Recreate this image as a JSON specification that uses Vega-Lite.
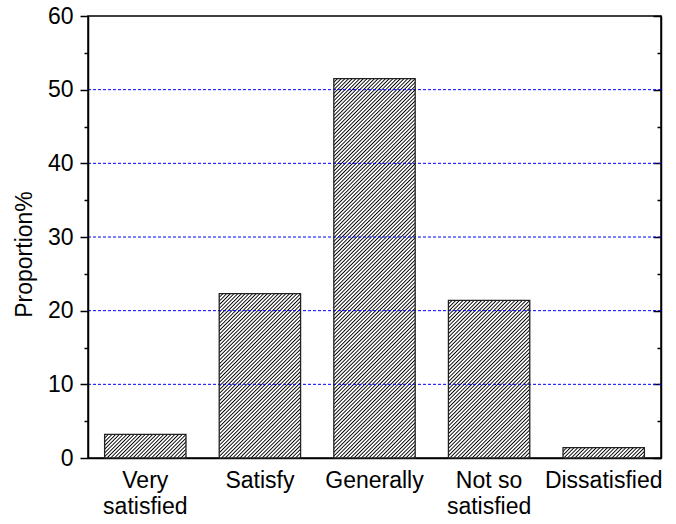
{
  "$schema": "https://vega.github.io/schema/vega-lite/v6.json",
  "width": 573,
  "height": 442,
  "autosize": "none",
  "padding": {"left": 88, "top": 16, "right": 15, "bottom": 66},
  "background": "white",
  "config": {
    "view": {"stroke": "black", "strokeWidth": 1.5},
    "font": "Liberation Sans"
  },
  "params": [
    {"name": "hatch", "value": [
{"offset":0,"color":"#000"},{"offset":0.0028,"color":"#fff"},{"offset":0.0052,"color":"#fff"},
{"offset":0.008,"color":"#000"},{"offset":0.0108,"color":"#fff"},{"offset":0.0132,"color":"#fff"},
{"offset":0.016,"color":"#000"},{"offset":0.0188,"color":"#fff"},{"offset":0.0212,"color":"#fff"},
{"offset":0.024,"color":"#000"},{"offset":0.0268,"color":"#fff"},{"offset":0.0292,"color":"#fff"},
{"offset":0.032,"color":"#000"},{"offset":0.0348,"color":"#fff"},{"offset":0.0372,"color":"#fff"},
{"offset":0.04,"color":"#000"},{"offset":0.0428,"color":"#fff"},{"offset":0.0452,"color":"#fff"},
{"offset":0.048,"color":"#000"},{"offset":0.0508,"color":"#fff"},{"offset":0.0532,"color":"#fff"},
{"offset":0.056,"color":"#000"},{"offset":0.0588,"color":"#fff"},{"offset":0.0612,"color":"#fff"},
{"offset":0.064,"color":"#000"},{"offset":0.0668,"color":"#fff"},{"offset":0.0692,"color":"#fff"},
{"offset":0.072,"color":"#000"},{"offset":0.0748,"color":"#fff"},{"offset":0.0772,"color":"#fff"},
{"offset":0.08,"color":"#000"},{"offset":0.0828,"color":"#fff"},{"offset":0.0852,"color":"#fff"},
{"offset":0.088,"color":"#000"},{"offset":0.0908,"color":"#fff"},{"offset":0.0932,"color":"#fff"},
{"offset":0.096,"color":"#000"},{"offset":0.0988,"color":"#fff"},{"offset":0.1012,"color":"#fff"},
{"offset":0.104,"color":"#000"},{"offset":0.1068,"color":"#fff"},{"offset":0.1092,"color":"#fff"},
{"offset":0.112,"color":"#000"},{"offset":0.1148,"color":"#fff"},{"offset":0.1172,"color":"#fff"},
{"offset":0.12,"color":"#000"},{"offset":0.1228,"color":"#fff"},{"offset":0.1252,"color":"#fff"},
{"offset":0.128,"color":"#000"},{"offset":0.1308,"color":"#fff"},{"offset":0.1332,"color":"#fff"},
{"offset":0.136,"color":"#000"},{"offset":0.1388,"color":"#fff"},{"offset":0.1412,"color":"#fff"},
{"offset":0.144,"color":"#000"},{"offset":0.1468,"color":"#fff"},{"offset":0.1492,"color":"#fff"},
{"offset":0.152,"color":"#000"},{"offset":0.1548,"color":"#fff"},{"offset":0.1572,"color":"#fff"},
{"offset":0.16,"color":"#000"},{"offset":0.1628,"color":"#fff"},{"offset":0.1652,"color":"#fff"},
{"offset":0.168,"color":"#000"},{"offset":0.1708,"color":"#fff"},{"offset":0.1732,"color":"#fff"},
{"offset":0.176,"color":"#000"},{"offset":0.1788,"color":"#fff"},{"offset":0.1812,"color":"#fff"},
{"offset":0.184,"color":"#000"},{"offset":0.1868,"color":"#fff"},{"offset":0.1892,"color":"#fff"},
{"offset":0.192,"color":"#000"},{"offset":0.1948,"color":"#fff"},{"offset":0.1972,"color":"#fff"},
{"offset":0.2,"color":"#000"},{"offset":0.2028,"color":"#fff"},{"offset":0.2052,"color":"#fff"},
{"offset":0.208,"color":"#000"},{"offset":0.2108,"color":"#fff"},{"offset":0.2132,"color":"#fff"},
{"offset":0.216,"color":"#000"},{"offset":0.2188,"color":"#fff"},{"offset":0.2212,"color":"#fff"},
{"offset":0.224,"color":"#000"},{"offset":0.2268,"color":"#fff"},{"offset":0.2292,"color":"#fff"},
{"offset":0.232,"color":"#000"},{"offset":0.2348,"color":"#fff"},{"offset":0.2372,"color":"#fff"},
{"offset":0.24,"color":"#000"},{"offset":0.2428,"color":"#fff"},{"offset":0.2452,"color":"#fff"},
{"offset":0.248,"color":"#000"},{"offset":0.2508,"color":"#fff"},{"offset":0.2532,"color":"#fff"},
{"offset":0.256,"color":"#000"},{"offset":0.2588,"color":"#fff"},{"offset":0.2612,"color":"#fff"},
{"offset":0.264,"color":"#000"},{"offset":0.2668,"color":"#fff"},{"offset":0.2692,"color":"#fff"},
{"offset":0.272,"color":"#000"},{"offset":0.2748,"color":"#fff"},{"offset":0.2772,"color":"#fff"},
{"offset":0.28,"color":"#000"},{"offset":0.2828,"color":"#fff"},{"offset":0.2852,"color":"#fff"},
{"offset":0.288,"color":"#000"},{"offset":0.2908,"color":"#fff"},{"offset":0.2932,"color":"#fff"},
{"offset":0.296,"color":"#000"},{"offset":0.2988,"color":"#fff"},{"offset":0.3012,"color":"#fff"},
{"offset":0.304,"color":"#000"},{"offset":0.3068,"color":"#fff"},{"offset":0.3092,"color":"#fff"},
{"offset":0.312,"color":"#000"},{"offset":0.3148,"color":"#fff"},{"offset":0.3172,"color":"#fff"},
{"offset":0.32,"color":"#000"},{"offset":0.3228,"color":"#fff"},{"offset":0.3252,"color":"#fff"},
{"offset":0.328,"color":"#000"},{"offset":0.3308,"color":"#fff"},{"offset":0.3332,"color":"#fff"},
{"offset":0.336,"color":"#000"},{"offset":0.3388,"color":"#fff"},{"offset":0.3412,"color":"#fff"},
{"offset":0.344,"color":"#000"},{"offset":0.3468,"color":"#fff"},{"offset":0.3492,"color":"#fff"},
{"offset":0.352,"color":"#000"},{"offset":0.3548,"color":"#fff"},{"offset":0.3572,"color":"#fff"},
{"offset":0.36,"color":"#000"},{"offset":0.3628,"color":"#fff"},{"offset":0.3652,"color":"#fff"},
{"offset":0.368,"color":"#000"},{"offset":0.3708,"color":"#fff"},{"offset":0.3732,"color":"#fff"},
{"offset":0.376,"color":"#000"},{"offset":0.3788,"color":"#fff"},{"offset":0.3812,"color":"#fff"},
{"offset":0.384,"color":"#000"},{"offset":0.3868,"color":"#fff"},{"offset":0.3892,"color":"#fff"},
{"offset":0.392,"color":"#000"},{"offset":0.3948,"color":"#fff"},{"offset":0.3972,"color":"#fff"},
{"offset":0.4,"color":"#000"},{"offset":0.4028,"color":"#fff"},{"offset":0.4052,"color":"#fff"},
{"offset":0.408,"color":"#000"},{"offset":0.4108,"color":"#fff"},{"offset":0.4132,"color":"#fff"},
{"offset":0.416,"color":"#000"},{"offset":0.4188,"color":"#fff"},{"offset":0.4212,"color":"#fff"},
{"offset":0.424,"color":"#000"},{"offset":0.4268,"color":"#fff"},{"offset":0.4292,"color":"#fff"},
{"offset":0.432,"color":"#000"},{"offset":0.4348,"color":"#fff"},{"offset":0.4372,"color":"#fff"},
{"offset":0.44,"color":"#000"},{"offset":0.4428,"color":"#fff"},{"offset":0.4452,"color":"#fff"},
{"offset":0.448,"color":"#000"},{"offset":0.4508,"color":"#fff"},{"offset":0.4532,"color":"#fff"},
{"offset":0.456,"color":"#000"},{"offset":0.4588,"color":"#fff"},{"offset":0.4612,"color":"#fff"},
{"offset":0.464,"color":"#000"},{"offset":0.4668,"color":"#fff"},{"offset":0.4692,"color":"#fff"},
{"offset":0.472,"color":"#000"},{"offset":0.4748,"color":"#fff"},{"offset":0.4772,"color":"#fff"},
{"offset":0.48,"color":"#000"},{"offset":0.4828,"color":"#fff"},{"offset":0.4852,"color":"#fff"},
{"offset":0.488,"color":"#000"},{"offset":0.4908,"color":"#fff"},{"offset":0.4932,"color":"#fff"},
{"offset":0.496,"color":"#000"},{"offset":0.4988,"color":"#fff"},{"offset":0.5012,"color":"#fff"},
{"offset":0.504,"color":"#000"},{"offset":0.5068,"color":"#fff"},{"offset":0.5092,"color":"#fff"},
{"offset":0.512,"color":"#000"},{"offset":0.5148,"color":"#fff"},{"offset":0.5172,"color":"#fff"},
{"offset":0.52,"color":"#000"},{"offset":0.5228,"color":"#fff"},{"offset":0.5252,"color":"#fff"},
{"offset":0.528,"color":"#000"},{"offset":0.5308,"color":"#fff"},{"offset":0.5332,"color":"#fff"},
{"offset":0.536,"color":"#000"},{"offset":0.5388,"color":"#fff"},{"offset":0.5412,"color":"#fff"},
{"offset":0.544,"color":"#000"},{"offset":0.5468,"color":"#fff"},{"offset":0.5492,"color":"#fff"},
{"offset":0.552,"color":"#000"},{"offset":0.5548,"color":"#fff"},{"offset":0.5572,"color":"#fff"},
{"offset":0.56,"color":"#000"},{"offset":0.5628,"color":"#fff"},{"offset":0.5652,"color":"#fff"},
{"offset":0.568,"color":"#000"},{"offset":0.5708,"color":"#fff"},{"offset":0.5732,"color":"#fff"},
{"offset":0.576,"color":"#000"},{"offset":0.5788,"color":"#fff"},{"offset":0.5812,"color":"#fff"},
{"offset":0.584,"color":"#000"},{"offset":0.5868,"color":"#fff"},{"offset":0.5892,"color":"#fff"},
{"offset":0.592,"color":"#000"},{"offset":0.5948,"color":"#fff"},{"offset":0.5972,"color":"#fff"},
{"offset":0.6,"color":"#000"},{"offset":0.6028,"color":"#fff"},{"offset":0.6052,"color":"#fff"},
{"offset":0.608,"color":"#000"},{"offset":0.6108,"color":"#fff"},{"offset":0.6132,"color":"#fff"},
{"offset":0.616,"color":"#000"},{"offset":0.6188,"color":"#fff"},{"offset":0.6212,"color":"#fff"},
{"offset":0.624,"color":"#000"},{"offset":0.6268,"color":"#fff"},{"offset":0.6292,"color":"#fff"},
{"offset":0.632,"color":"#000"},{"offset":0.6348,"color":"#fff"},{"offset":0.6372,"color":"#fff"},
{"offset":0.64,"color":"#000"},{"offset":0.6428,"color":"#fff"},{"offset":0.6452,"color":"#fff"},
{"offset":0.648,"color":"#000"},{"offset":0.6508,"color":"#fff"},{"offset":0.6532,"color":"#fff"},
{"offset":0.656,"color":"#000"},{"offset":0.6588,"color":"#fff"},{"offset":0.6612,"color":"#fff"},
{"offset":0.664,"color":"#000"},{"offset":0.6668,"color":"#fff"},{"offset":0.6692,"color":"#fff"},
{"offset":0.672,"color":"#000"},{"offset":0.6748,"color":"#fff"},{"offset":0.6772,"color":"#fff"},
{"offset":0.68,"color":"#000"},{"offset":0.6828,"color":"#fff"},{"offset":0.6852,"color":"#fff"},
{"offset":0.688,"color":"#000"},{"offset":0.6908,"color":"#fff"},{"offset":0.6932,"color":"#fff"},
{"offset":0.696,"color":"#000"},{"offset":0.6988,"color":"#fff"},{"offset":0.7012,"color":"#fff"},
{"offset":0.704,"color":"#000"},{"offset":0.7068,"color":"#fff"},{"offset":0.7092,"color":"#fff"},
{"offset":0.712,"color":"#000"},{"offset":0.7148,"color":"#fff"},{"offset":0.7172,"color":"#fff"},
{"offset":0.72,"color":"#000"},{"offset":0.7228,"color":"#fff"},{"offset":0.7252,"color":"#fff"},
{"offset":0.728,"color":"#000"},{"offset":0.7308,"color":"#fff"},{"offset":0.7332,"color":"#fff"},
{"offset":0.736,"color":"#000"},{"offset":0.7388,"color":"#fff"},{"offset":0.7412,"color":"#fff"},
{"offset":0.744,"color":"#000"},{"offset":0.7468,"color":"#fff"},{"offset":0.7492,"color":"#fff"},
{"offset":0.752,"color":"#000"},{"offset":0.7548,"color":"#fff"},{"offset":0.7572,"color":"#fff"},
{"offset":0.76,"color":"#000"},{"offset":0.7628,"color":"#fff"},{"offset":0.7652,"color":"#fff"},
{"offset":0.768,"color":"#000"},{"offset":0.7708,"color":"#fff"},{"offset":0.7732,"color":"#fff"},
{"offset":0.776,"color":"#000"},{"offset":0.7788,"color":"#fff"},{"offset":0.7812,"color":"#fff"},
{"offset":0.784,"color":"#000"},{"offset":0.7868,"color":"#fff"},{"offset":0.7892,"color":"#fff"},
{"offset":0.792,"color":"#000"},{"offset":0.7948,"color":"#fff"},{"offset":0.7972,"color":"#fff"},
{"offset":0.8,"color":"#000"},{"offset":0.8028,"color":"#fff"},{"offset":0.8052,"color":"#fff"},
{"offset":0.808,"color":"#000"},{"offset":0.8108,"color":"#fff"},{"offset":0.8132,"color":"#fff"},
{"offset":0.816,"color":"#000"},{"offset":0.8188,"color":"#fff"},{"offset":0.8212,"color":"#fff"},
{"offset":0.824,"color":"#000"},{"offset":0.8268,"color":"#fff"},{"offset":0.8292,"color":"#fff"},
{"offset":0.832,"color":"#000"},{"offset":0.8348,"color":"#fff"},{"offset":0.8372,"color":"#fff"},
{"offset":0.84,"color":"#000"},{"offset":0.8428,"color":"#fff"},{"offset":0.8452,"color":"#fff"},
{"offset":0.848,"color":"#000"},{"offset":0.8508,"color":"#fff"},{"offset":0.8532,"color":"#fff"},
{"offset":0.856,"color":"#000"},{"offset":0.8588,"color":"#fff"},{"offset":0.8612,"color":"#fff"},
{"offset":0.864,"color":"#000"},{"offset":0.8668,"color":"#fff"},{"offset":0.8692,"color":"#fff"},
{"offset":0.872,"color":"#000"},{"offset":0.8748,"color":"#fff"},{"offset":0.8772,"color":"#fff"},
{"offset":0.88,"color":"#000"},{"offset":0.8828,"color":"#fff"},{"offset":0.8852,"color":"#fff"},
{"offset":0.888,"color":"#000"},{"offset":0.8908,"color":"#fff"},{"offset":0.8932,"color":"#fff"},
{"offset":0.896,"color":"#000"},{"offset":0.8988,"color":"#fff"},{"offset":0.9012,"color":"#fff"},
{"offset":0.904,"color":"#000"},{"offset":0.9068,"color":"#fff"},{"offset":0.9092,"color":"#fff"},
{"offset":0.912,"color":"#000"},{"offset":0.9148,"color":"#fff"},{"offset":0.9172,"color":"#fff"},
{"offset":0.92,"color":"#000"},{"offset":0.9228,"color":"#fff"},{"offset":0.9252,"color":"#fff"},
{"offset":0.928,"color":"#000"},{"offset":0.9308,"color":"#fff"},{"offset":0.9332,"color":"#fff"},
{"offset":0.936,"color":"#000"},{"offset":0.9388,"color":"#fff"},{"offset":0.9412,"color":"#fff"},
{"offset":0.944,"color":"#000"},{"offset":0.9468,"color":"#fff"},{"offset":0.9492,"color":"#fff"},
{"offset":0.952,"color":"#000"},{"offset":0.9548,"color":"#fff"},{"offset":0.9572,"color":"#fff"},
{"offset":0.96,"color":"#000"},{"offset":0.9628,"color":"#fff"},{"offset":0.9652,"color":"#fff"},
{"offset":0.968,"color":"#000"},{"offset":0.9708,"color":"#fff"},{"offset":0.9732,"color":"#fff"},
{"offset":0.976,"color":"#000"},{"offset":0.9788,"color":"#fff"},{"offset":0.9812,"color":"#fff"},
{"offset":0.984,"color":"#000"},{"offset":0.9868,"color":"#fff"},{"offset":0.9892,"color":"#fff"},
{"offset":0.992,"color":"#000"},{"offset":0.9948,"color":"#fff"},{"offset":0.9972,"color":"#fff"},
{"offset":1,"color":"#000"}
    ]}
  ],
  "data": {
    "values": [
      {"category": "Very satisfied", "proportion": 3.2},
      {"category": "Satisfy", "proportion": 22.3},
      {"category": "Generally", "proportion": 51.5},
      {"category": "Not so satisfied", "proportion": 21.4},
      {"category": "Dissatisfied", "proportion": 1.4}
    ]
  },
  "layer": [
    {
      "mark": {"type": "bar", "strokeWidth": 0},
      "encoding": {
        "x": {
          "field": "category",
          "type": "nominal",
          "sort": null,
          "scale": {"paddingInner": 0.29, "paddingOuter": 0.145},
          "axis": {
            "title": null,
            "labelAngle": 0,
            "ticks": false,
            "tickSize": 0,
            "domainColor": "black",
            "domainWidth": 1.5,
            "labelFontSize": 23,
            "labelColor": "black",
            "labelPadding": 11,
            "labelLineHeight": 26,
            "labelExpr": "datum.label == 'Very satisfied' ? ['Very', 'satisfied'] : datum.label == 'Not so satisfied' ? ['Not so', 'satisfied'] : datum.label"
          }
        },
        "y": {
          "field": "proportion",
          "type": "quantitative",
          "scale": {"domain": [0, 60], "nice": false},
          "axis": {
            "orient": "left",
            "zindex": 1,
            "values": [0, 5, 10, 15, 20, 25, 30, 35, 40, 45, 50, 55, 60],
            "labelExpr": "datum.value % 10 == 0 ? datum.label : ''",
            "tickSize": {"condition": {"test": "datum.value % 10 != 0", "value": 4}, "value": 8},
            "tickColor": "black",
            "tickWidth": 1.5,
            "domainColor": "black",
            "domainWidth": 1.5,
            "labelFontSize": 23,
            "labelColor": "black",
            "labelPadding": 7,
            "grid": false,
            "title": "Proportion%",
            "titleFontSize": 23,
            "titleFontWeight": "normal",
            "titleColor": "black",
            "titleAngle": -90,
            "titleX": -57,
            "titleY": 238,
            "titleAlign": "center",
            "titleBaseline": "alphabetic"
          }
        },
        "fill": {
          "condition": [
            {"test": "datum.category == 'Very satisfied'", "value": {"expr": "{gradient: 'linear', x1: 0, y1: 0, x2: 5.244, y2: 1.519, stops: hatch}"}},
            {"test": "datum.category == 'Satisfy'", "value": {"expr": "{gradient: 'linear', x1: 0, y1: 0, x2: 1.1197, y2: 2.2607, stops: hatch}"}},
            {"test": "datum.category == 'Generally'", "value": {"expr": "{gradient: 'linear', x1: 0, y1: 0, x2: 0.25, y2: 1.1655, stops: hatch}"}},
            {"test": "datum.category == 'Not so satisfied'", "value": {"expr": "{gradient: 'linear', x1: 0, y1: 0, x2: 1.1957, y2: 2.3166, stops: hatch}"}},
            {"test": "datum.category == 'Dissatisfied'", "value": {"expr": "{gradient: 'linear', x1: 0, y1: 0, x2: 5.594, y2: 0.7088, stops: hatch}"}}
          ],
          "value": "#a8a8a8"
        }
      }
    },
    {
      "data": {"values": [{"gridline": 10}, {"gridline": 20}, {"gridline": 30}, {"gridline": 40}, {"gridline": 50}]},
      "mark": {"type": "rule", "color": "#0000ff", "strokeDash": [3, 2], "strokeWidth": 1},
      "encoding": {
        "y": {"field": "gridline", "type": "quantitative", "axis": null}
      }
    },
    {
      "mark": {"type": "bar", "filled": false, "color": "#222", "strokeWidth": 1.3},
      "encoding": {
        "x": {"field": "category", "type": "nominal", "sort": null},
        "y": {
          "field": "proportion",
          "type": "quantitative",
          "axis": {
            "orient": "right",
            "values": [0, 5, 10, 15, 20, 25, 30, 35, 40, 45, 50, 55, 60],
            "labels": false,
            "title": null,
            "grid": false,
            "tickSize": {"condition": {"test": "datum.value % 10 != 0", "value": -4}, "value": -8},
            "tickColor": "black",
            "tickWidth": 1.5,
            "domainColor": "black",
            "domainWidth": 1.5
          }
        }
      }
    }
  ],
  "resolve": {"axis": {"y": "independent"}}
}
